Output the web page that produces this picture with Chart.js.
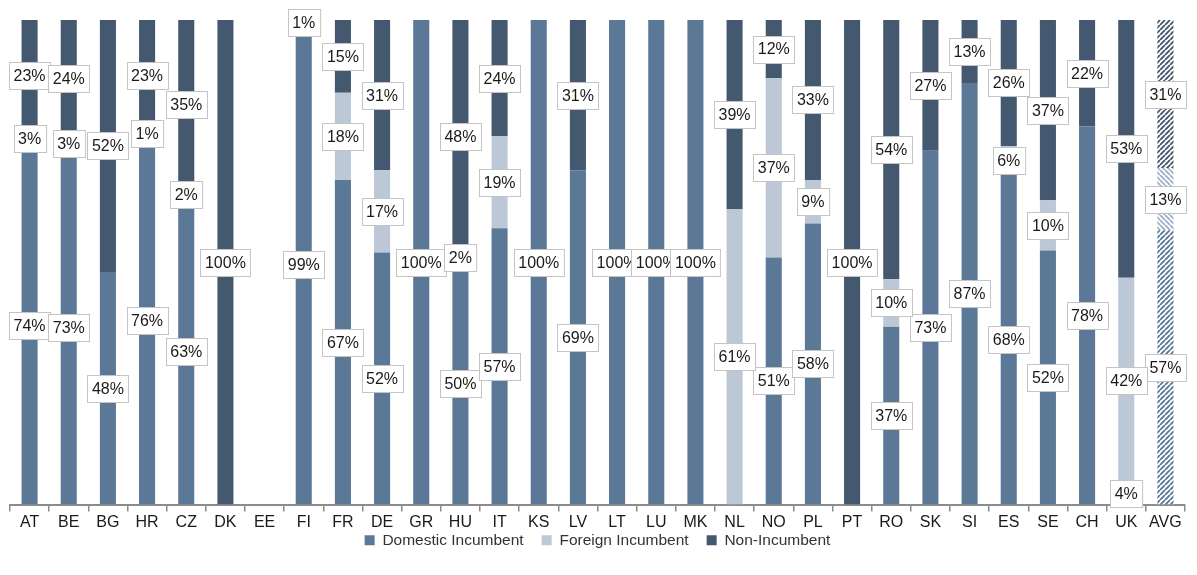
<!DOCTYPE html>
<html>
<head>
<meta charset="utf-8">
<script src="https://cdn.jsdelivr.net/npm/chart.js@4.4.1/dist/chart.umd.min.js"></script>
<style>
html,body{margin:0;padding:0;background:#fff;}
#wrap{width:1197px;height:575px;}
</style>
</head>
<body>
<div id="wrap"><canvas id="c" width="1197" height="575"></canvas></div>
<script>
const categories = ['AT','BE','BG','HR','CZ','DK','EE','FI','FR','DE','GR','HU','IT','KS','LV','LT','LU','MK','NL','NO','PL','PT','RO','SK','SI','ES','SE','CH','UK','AVG'];
const domestic     = [74,73,48,76,63,0,0,99,67,52,100,50,57,100,69,100,100,100,0,51,58,0,36.7,73,87,68,52.4,78,4.4,56.6];
const foreign      = [3,3,0,1,2,0,0,0,18,17,0,2,19,0,0,0,0,0,61,37,9,0,9.8,0,0,6,10.4,0,42.4,12.8];
const nonIncumbent = [23,24,52,23,35,100,0,1,15,31,0,48,24,0,31,0,0,0,39,12,33,100,53.5,27,13,26,37.2,22,53.2,30.6];
const seriesNames  = ['Domestic Incumbent','Foreign Incumbent','Non-Incumbent'];
const hatchedCategory = 'AVG';

const COL_DOM = '#5B7897', COL_FOR = '#BDC8D6', COL_NON = '#44586F';
const FONT = '"Liberation Sans", Arial, sans-serif';

const canvas = document.getElementById('c');
const ctx = canvas.getContext('2d');

function hatch(color, dir){
  const s = 5;
  const t = document.createElement('canvas');
  t.width = s; t.height = s;
  const g = t.getContext('2d');
  g.fillStyle = '#fff'; g.fillRect(0,0,s,s);
  g.strokeStyle = color; g.lineWidth = 1.9;
  g.beginPath();
  if (dir > 0) {
    for (let k=-1;k<=1;k++){ g.moveTo(k*s, s); g.lineTo(k*s+s, 0); }
  } else {
    for (let k=-1;k<=1;k++){ g.moveTo(k*s, 0); g.lineTo(k*s+s, s); }
  }
  g.stroke();
  return ctx.createPattern(t, 'repeat');
}

const patDom = hatch(COL_DOM, 1), patFor = hatch('#9fb0c4', -1), patNon = hatch(COL_NON, 1);
const bg = (solid, pat) => categories.map(c => c === hatchedCategory ? pat : solid);

const labelPlugin = {
  id: 'segLabels',
  afterDatasetsDraw(chart){
    const c = chart.ctx;
    c.save();
    c.font = '16px ' + FONT;
    c.textAlign = 'center';
    c.textBaseline = 'middle';
    chart.data.datasets.forEach((ds, i) => {
      const meta = chart.getDatasetMeta(i);
      meta.data.forEach((el, j) => {
        const v = ds.data[j];
        if (!v) return;
        const p = el.getProps(['x','y','base'], true);
        const cy = (p.y + p.base) / 2;
        const txt = Math.round(v) + '%';
        const w = c.measureText(txt).width + 9;
        const h = 27;
        const bx = Math.round(p.x - w/2) + 0.5, by = Math.round(cy - h/2) + 0.5;
        c.fillStyle = '#fff';
        c.fillRect(bx, by, w, h);
        c.strokeStyle = '#c4c4c4';
        c.lineWidth = 1;
        c.strokeRect(bx, by, w, h);
        c.fillStyle = '#1a1a1a';
        c.fillText(txt, p.x, cy + 1);
      });
    });
    c.restore();
  }
};

const legendShift = {
  id: 'legendShift',
  afterLayout(chart){
    const l = chart.legend;
    if (l) { l.top -= 19; l.bottom -= 19; }
  }
};

new Chart(canvas, {
  type: 'bar',
  data: {
    labels: categories,
    datasets: [
      { label: seriesNames[0], data: domestic, backgroundColor: bg(COL_DOM, patDom) },
      { label: seriesNames[1], data: foreign, backgroundColor: bg(COL_FOR, patFor) },
      { label: seriesNames[2], data: nonIncumbent, backgroundColor: bg(COL_NON, patNon) }
    ]
  },
  options: {
    responsive: false,
    animation: false,
    layout: { padding: { left: 10, right: 12, top: 20, bottom: -2 } },
    datasets: { bar: { barPercentage: 0.41, categoryPercentage: 1.0, borderWidth: 0 } },
    scales: {
      x: {
        stacked: true,
        grid: { display: true, drawOnChartArea: false, drawTicks: true, tickLength: 7, color: '#8c8c8c', lineWidth: 1.5, offset: true },
        border: { display: true, color: '#8c8c8c', width: 2 },
        ticks: { color: '#1a1a1a', font: { size: 16, family: FONT, lineHeight: 1 }, padding: 3, maxRotation: 0, autoSkip: false }
      },
      y: { stacked: true, display: false, min: 0, max: 100 }
    },
    plugins: {
      legend: {
        position: 'bottom',
        labels: { boxWidth: 10, boxHeight: 10, padding: 18, color: '#333', font: { size: 15.5, family: FONT } }
      },
      tooltip: { enabled: false }
    }
  },
  plugins: [labelPlugin, legendShift]
});
</script>
</body>
</html>
